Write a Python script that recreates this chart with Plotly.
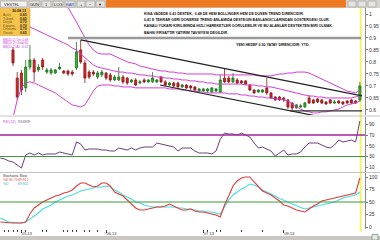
import plotly.graph_objects as go

# ---------------- data ----------------
sessions = list(range(83))
ind_sessions = list(range(-3, 83))
month_ticks = [2, 22, 45, 64]
month_labels = ["05.13", "06.13", "07.13", "08.13"]
minor_ticks = [-2, -1, 0, 1, 3, 7, 8, 12, 13, 14, 15, 17, 18, 20, 46, 48, 49, 54, 59]

opens = [.85,.733,.754,.692,.779,.808,.767,.808,.758,.754,
         .754,.771,.7625,.7625,.758,.775,.85,.796,.758,.758,
         .7375,.746,.754,.746,.725,.725,.7375,.733,.717,.725,
         .7125,.725,.717,.717,.717,.7375,.717,.704,.7125,.7125,
         .696,.704,.7,.696,.679,.679,.679,.675,.679,.675,
         .733,.733,.717,.725,.721,.721,.704,.683,.675,.675,
         .692,.671,.654,.654,.65,.642,.629,.608,.6125,.6125,
         .65,.642,.646,.642,.633,.642,.629,.6375,.633,.6375,
         .642,.6375,.642]
closes = [.796,.654,.683,.779,.808,.758,.779,.779,.767,.767,
          .767,.779,.754,.75,.75,.842,.8,.733,.7375,.75,
          .754,.758,.733,.725,.7375,.7375,.717,.7125,.725,.704,
          .717,.717,.725,.733,.725,.717,.704,.7125,.7,.696,
          .704,.692,.692,.683,.6875,.6875,.6875,.692,.6875,.725,
          .717,.717,.733,.7125,.7125,.708,.683,.671,.683,.683,
          .671,.65,.642,.642,.642,.6125,.608,.621,.617,.629,
          .629,.629,.633,.629,.625,.629,.633,.629,.625,.629,
          .629,.629,.7]
highs = [.8625,.758,.767,.808,.871,.817,.792,.817,.775,.775,
         .771,.796,.767,.767,.767,.883,.892,.808,.767,.767,
         .7625,.767,.758,.754,.746,.779,.746,.7375,.729,.733,
         .725,.733,.729,.758,.729,.742,.725,.717,.717,.717,
         .708,.708,.704,.7,.692,.692,.692,.696,.692,.746,
         .775,.742,.754,.733,.725,.725,.708,.6875,.6875,.6875,
         .733,.675,.658,.658,.654,.646,.633,.625,.625,.633,
         .6625,.646,.65,.646,.6375,.646,.642,.642,.6375,.642,
         .646,.642,.717]
lows = [.783,.642,.6625,.675,.767,.717,.758,.767,.75,.746,
        .75,.767,.75,.742,.742,.767,.792,.7125,.729,.742,
        .729,.7375,.725,.717,.721,.721,.708,.704,.7125,.7,
        .708,.7125,.7125,.7125,.7125,.7125,.7,.7,.696,.692,
        .692,.6875,.683,.679,.675,.675,.671,.671,.675,.671,
        .7125,.7125,.7125,.708,.708,.704,.679,.667,.671,.671,
        .6625,.646,.6375,.6375,.633,.604,.6,.604,.608,.608,
        .625,.625,.629,.625,.621,.625,.625,.625,.621,.625,
        .625,.625,.633]

bb_upper = [1.308,1.2875,1.267,1.246,1.225,1.204,1.183,1.167,1.15,1.129,
            1.108,1.083,1.058,1.029,1.0,0.967,0.933,0.9,0.871,0.85,
            0.8375,0.833,0.833,0.833,0.825,0.817,0.808,0.8,0.796,0.792,
            0.783,0.779,0.775,0.771,0.767,0.7625,0.7625,0.758,0.758,0.754,
            0.754,0.75,0.75,0.75,0.75,0.75,0.75,0.75,0.746,0.746,
            0.746,0.746,0.746,0.746,0.746,0.746,0.746,0.746,0.742,0.742,
            0.742,0.742,0.746,0.75,0.75,0.754,0.754,0.758,0.758,0.758,
            0.754,0.746,0.7375,0.729,0.721,0.7125,0.704,0.696,0.6875,0.679,
            0.675,0.671,0.683]
bb_middle = [.975,.967,.958,.95,.946,.9375,.929,.921,.9125,.904,
             .896,.8875,.879,.871,.858,.85,.833,.817,.8,.7875,
             .779,.775,.771,.767,.7625,.758,.758,.754,.754,.75,
             .746,.746,.742,.742,.7375,.7375,.733,.733,.729,.729,
             .725,.725,.721,.721,.717,.717,.7125,.7125,.708,.708,
             .708,.708,.708,.708,.708,.704,.704,.704,.7,.7,
             .696,.696,.692,.6875,.683,.679,.675,.671,.667,.6625,
             .658,.658,.654,.654,.65,.65,.65,.65,.65,.65,
             .65,.654,.658]
bb_lower = [.567,.642,.692,.7125,.717,.7125,.704,.696,.6875,.679,
            .671,.658,.646,.633,.621,.617,.6125,.621,.65,.679,
            .7,.704,.704,.704,.7,.7,.696,.696,.696,.692,
            .692,.692,.692,.692,.692,.692,.692,.6875,.6875,.6875,
            .683,.683,.679,.679,.675,.675,.671,.671,.671,.671,
            .671,.667,.667,.667,.6625,.6625,.658,.658,.654,.654,
            .65,.65,.646,.646,.642,.6375,.625,.6125,.604,.596,
            .592,.5875,.5875,.592,.592,.596,.6,.604,.6125,.621,
            .625,.629,.6375]

trend_upper_x = [16, 82.5]
trend_upper_y = [0.892, 0.659]
trend_lower_x = [34.75, 72]
trend_lower_y = [0.704, 0.574]
support_x = [65.5, 82.5]
support_y = [0.596, 0.596]
target_x = [13, 82.3]
target_y = [0.90, 0.90]
marker_session = 82.2

rsi = [27.2,25.4,21.6,
       19.8,14.2,8.6,32.8,36.5,32.8,36.5,32.8,34.7,34.7,
       34.7,38.4,36.5,34.7,32.8,57.0,53.3,42.1,44.0,44.0,
       44.0,42.1,42.1,40.2,40.2,45.8,44.0,42.1,45.8,42.1,
       45.8,47.7,47.7,47.7,55.1,53.3,51.4,49.5,47.7,40.2,
       45.8,45.8,45.8,40.2,36.5,36.5,36.5,34.7,40.2,62.0,
       73.7,71.9,71.9,70.0,73.7,70.0,66.3,55.1,45.8,47.7,
       44.0,40.2,30.9,36.5,42.1,32.8,34.7,34.7,38.4,47.7,
       55.1,55.1,55.1,51.4,47.7,45.8,51.4,60.7,57.0,58.8,
       60.7,57.0,96.0]
stoch_k = [10,9,8,
           8,8,8,10,26,38,44,50,54,58,
           62,64,68,70,74,82,88,88,84,80,
           82,88,88,82,70,66,62,54,46,38,
           34,34,36,38,40,40,42,46,42,38,
           34,34,36,32,30,30,28,26,24,20,
           44,62,82,92,98,100,100,90,80,72,
           68,64,58,52,44,42,38,34,32,30,
           36,42,46,52,54,56,58,60,62,64,
           66,68,98]
stoch_d = [18,14,10,
           9,8,8,10,16,22,28,36,40,44,
           50,54,58,62,64,68,72,74,76,78,
           80,80,82,80,74,70,64,60,56,50,
           48,44,42,40,40,40,40,40,40,38,
           38,36,36,34,32,32,30,30,28,26,
           40,54,64,70,76,80,86,84,80,74,
           70,67,62,57,54,50,46,42,39,36,
           38,40,42,44,46,48,50,54,58,60,
           62,64,70]
rsi_levels = [70, 30]
stoch_level = 50
price_ticks = [0.6, 0.65, 0.7, 0.75, 0.8, 0.85, 0.9, 0.95, 1.0]
price_labels = ["0.6", "0.65", "0.7", "0.75", "0.8", "0.85", "0.9", "0.95", "1"]
rsi_ticks = [10, 30, 50, 70, 90]
stoch_ticks = [0, 25, 50, 75, 100]

note_lines = [
    "KISA VADEDE 0.41 DESTEK,  0.48 DE HEM BOLLINGER HEM DE DUSEN TREND DIRENCIDIR.",
    "0.41 E TEKRAR GERI DONERSE TREND ANLAMIDA DESTEGIN BASLANGICLARINDAN GOSTERGESI OLUR.",
    "KANALI YUKARI KIRILIMINDA HIZLI HAREKETLER GORULEBILIR VE BU ALANLAR DESTEKTEN BIRI OLMAK.",
    "BAHSI FIRSATTIR YATIRIM TAVSIYESI DEGILDIR.",
]
note_target = "YENI HEDEF 0.90 YATAY DIRENCIDIR. YTD."
info_header = "30.08.13"
info_rows = [("Açılış", "0.65"), ("Yüksek", "0.65"), ("Düşük", "0.70"),
             ("Kapanış", "0.70"), ("Ortalama", "0.70"), ("Önceki", "0.65")]

# ---------------- geometry helpers (layout decoration only) ----------------
W, H = 380, 240
ML, MR, MT, MB = 0, 15, 8, 11
PW, PH = W - ML - MR, H - MT - MB


def px(x):
    return (x - ML) / PW


def py(y):
    return (H - MB - y) / PH


MAG = "#d23fd2"
FONT = "Liberation Sans"

fig = go.Figure()

# Bollinger bands
for band in (bb_upper, bb_middle, bb_lower):
    fig.add_trace(go.Scatter(x=sessions, y=band, mode="lines",
                             line=dict(color=MAG, width=1), xaxis="x", yaxis="y",
                             hoverinfo="skip"))
# trend channel
fig.add_trace(go.Scatter(x=target_x, y=target_y, mode="lines",
                         line=dict(color="#9a9a9a", width=2.5), yaxis="y"))
fig.add_trace(go.Scatter(x=trend_upper_x, y=trend_upper_y, mode="lines",
                         line=dict(color="#222222", width=1.2), yaxis="y"))
fig.add_trace(go.Scatter(x=trend_lower_x, y=trend_lower_y, mode="lines",
                         line=dict(color="#222222", width=1.2), yaxis="y"))
fig.add_trace(go.Scatter(x=support_x, y=support_y, mode="lines",
                         line=dict(color="#333333", width=1.2), yaxis="y"))

fig.add_trace(go.Candlestick(
    x=sessions, open=opens, high=highs, low=lows, close=closes,
    increasing=dict(line=dict(color="#1f6f1f", width=0.8), fillcolor="#2fbf2f"),
    decreasing=dict(line=dict(color="#8a1a1a", width=0.8), fillcolor="#dd2424"),
    whiskerwidth=0, xaxis="x", yaxis="y"))

# RSI
fig.add_trace(go.Scatter(x=ind_sessions, y=rsi, mode="lines",
                         line=dict(color="#6b3f7e", width=1), yaxis="y2"))
# Stochastic
fig.add_trace(go.Scatter(x=ind_sessions, y=stoch_d, mode="lines",
                         line=dict(color="#45dede", width=1.1), yaxis="y3"))
fig.add_trace(go.Scatter(x=ind_sessions, y=stoch_k, mode="lines",
                         line=dict(color="#e23b3b", width=1.1), yaxis="y3"))

shapes = []
# RSI / stochastic reference levels
shapes.append(dict(type="line", xref="paper", yref="y2", x0=0, x1=1,
                   y0=rsi_levels[0], y1=rsi_levels[0], line=dict(color="#a3239a", width=1.6)))
shapes.append(dict(type="line", xref="paper", yref="y2", x0=0, x1=1,
                   y0=rsi_levels[1], y1=rsi_levels[1], line=dict(color="#3c9a3c", width=1.2)))
shapes.append(dict(type="line", xref="paper", yref="y3", x0=0, x1=1,
                   y0=stoch_level, y1=stoch_level, line=dict(color="#3c9a3c", width=1.2)))
# yellow session marker
shapes.append(dict(type="line", xref="x", yref="paper", x0=marker_session, x1=marker_session,
                   y0=py(232), y1=py(4), line=dict(color="#f4f46a", width=2), layer="below"))
# panel separators
for yy in (116, 172.5):
    shapes.append(dict(type="line", xref="paper", yref="paper", x0=px(0), x1=px(380),
                       y0=py(yy), y1=py(yy), line=dict(color="#c4c4c4", width=1)))
# toolbar
shapes.append(dict(type="rect", xref="paper", yref="paper", x0=px(0), x1=px(380),
                   y0=py(8), y1=py(0), fillcolor="#d8d5d0", line=dict(width=0), layer="above"))
shapes.append(dict(type="rect", xref="paper", yref="paper", x0=px(106), x1=px(346),
                   y0=py(7.5), y1=py(0), fillcolor="#ee7b22", line=dict(width=0), layer="above"))
buttons = [(0.5, 27, "VESTEL"), (29, 40, "GÜN"), (42, 51, "1"), (53, 63, "LOG"),
           (65, 75, "BAR"), (77, 85, "+"), (86, 95, "−"), (96, 105, "▼"),
           (348, 356, ""), (358, 366, ""), (368, 376, "")]
annotations = []
for x0, x1, lab in buttons:
    shapes.append(dict(type="rect", xref="paper", yref="paper", x0=px(x0), x1=px(x1),
                       y0=py(7), y1=py(1), fillcolor="#f4f3f1" if x0 < 1 else "#e6e4e0",
                       line=dict(color="#9a9894", width=0.6), layer="above"))
    if lab:
        annotations.append(dict(x=px(x0 + 1 if x0 < 1 else (x0 + x1) / 2), y=py(4),
                                xref="paper", yref="paper", text=lab, showarrow=False,
                                xanchor="left" if x0 < 1 else "center", yanchor="middle",
                                font=dict(family=FONT, size=4,
                                          color="#2a4fb0" if lab == "BAR" else "#222")))
# info box
shapes.append(dict(type="rect", xref="paper", yref="paper", x0=px(0), x1=px(30),
                   y0=py(35.5), y1=py(8.5), fillcolor="#f6c44a",
                   line=dict(color="#d89a20", width=0.5), layer="above"))
annotations.append(dict(x=px(19), y=py(11.3), xref="paper", yref="paper", text="<b>" + info_header + "</b>",
                        showarrow=False, xanchor="center", yanchor="middle",
                        font=dict(family=FONT, size=3.6, color="#222")))
for k, (lab, val) in enumerate(info_rows):
    yy = 15 + k * 3.6
    annotations.append(dict(x=px(1), y=py(yy), xref="paper", yref="paper", text=lab,
                            showarrow=False, xanchor="left", yanchor="middle",
                            font=dict(family=FONT, size=3.2, color="#6a5020")))
    annotations.append(dict(x=px(29), y=py(yy), xref="paper", yref="paper", text="<b>" + val + "</b>",
                            showarrow=False, xanchor="right", yanchor="middle",
                            font=dict(family=FONT, size=3.4, color="#222")))
# band legend below box
for k, (lab, val) in enumerate([("BB(20,2) Üst", "0.68"), ("BB(20,2) Orta", "0.65"), ("BB(20,2) Alt", "0.62")]):
    yy = 39.5 + k * 3.6
    annotations.append(dict(x=px(0.5), y=py(yy), xref="paper", yref="paper", text=lab,
                            showarrow=False, xanchor="left", yanchor="middle",
                            font=dict(family=FONT, size=3.2, color=MAG)))
    annotations.append(dict(x=px(30), y=py(yy), xref="paper", yref="paper", text=val,
                            showarrow=False, xanchor="right", yanchor="middle",
                            font=dict(family=FONT, size=3.2, color=MAG)))
# commentary
for k, line in enumerate(note_lines):
    annotations.append(dict(x=px(142), y=py(14 + k * 6.2), xref="paper", yref="paper",
                            text="<b>" + line + "</b>", showarrow=False,
                            xanchor="left", yanchor="middle",
                            font=dict(family=FONT, size=3.6, color="#111")))
annotations.append(dict(x=px(273), y=py(45), xref="paper", yref="paper",
                        text="<b>" + note_target + "</b>", showarrow=False,
                        xanchor="center", yanchor="middle",
                        font=dict(family=FONT, size=3.6, color="#111")))
# indicator legends
annotations += [
    dict(x=px(0.5), y=py(122.5), text="RSI (14)", font=dict(family=FONT, size=3.4, color=MAG)),
    dict(x=px(16), y=py(122.5), text="93.6959", font=dict(family=FONT, size=3.4, color="#6b3f7e")),
    dict(x=px(0.5), y=py(175.5), text="Stochastic Slow", font=dict(family=FONT, size=3.4, color="#333")),
    dict(x=px(0.5), y=py(179.5), text="%K 81.71", font=dict(family=FONT, size=3.4, color="#e23b3b")),
    dict(x=px(16), y=py(179.5), text="89.911", font=dict(family=FONT, size=3.4, color="#e23b3b")),
    dict(x=px(0.5), y=py(183.5), text="%D", font=dict(family=FONT, size=3.4, color="#20b8b8")),
    dict(x=px(16), y=py(183.5), text="69.922", font=dict(family=FONT, size=3.4, color="#20b8b8")),
]
for a in annotations[-7:]:
    a.update(xref="paper", yref="paper", showarrow=False, xanchor="left", yanchor="middle")
# bottom status bar
shapes.append(dict(type="rect", xref="paper", yref="paper", x0=px(0), x1=px(380),
                   y0=py(240), y1=py(236), fillcolor="#c9c7c3", line=dict(width=0), layer="above"))
shapes.append(dict(type="rect", xref="paper", yref="paper", x0=px(372), x1=px(378),
                   y0=py(240), y1=py(234.5), fillcolor="#e8e8e8",
                   line=dict(color="#5a7a5a", width=0.6), layer="above"))

axis_common = dict(showgrid=False, zeroline=False, side="right", anchor="x",
                   ticks="outside", ticklen=2, tickcolor="#777", showline=True,
                   linecolor="#8a8a8a", linewidth=1,
                   tickfont=dict(family=FONT, size=5, color="#333"), fixedrange=True)

fig.update_layout(
    width=W, height=H, autosize=False,
    margin=dict(l=ML, r=MR, t=MT, b=MB, pad=0),
    paper_bgcolor="white", plot_bgcolor="white", showlegend=False,
    xaxis=dict(domain=[0, 1], range=[-3.073, 83.215], anchor="y3", showgrid=False,
               zeroline=False, showline=False, rangeslider=dict(visible=False),
               tickvals=month_ticks, ticktext=month_labels, ticks="outside", ticklen=3,
               tickcolor="#444", ticklabelposition="outside right",
               tickfont=dict(family=FONT, size=4, color="#333"),
               minor=dict(tickvals=minor_ticks, ticks="outside", ticklen=2, tickcolor="#444"),
               fixedrange=True),
    yaxis=dict(domain=[py(115), 1], range=[0.579, 1.025], tickvals=price_ticks,
               ticktext=price_labels, **axis_common),
    yaxis2=dict(domain=[py(172), py(117)], range=[1.2, 103.5], tickvals=rsi_ticks, **axis_common),
    yaxis3=dict(domain=[0, py(173)], range=[-4, 108], tickvals=stoch_ticks, **axis_common),
    shapes=shapes, annotations=annotations,
)

fig.write_html("out.html", config={"displayModeBar": False})
